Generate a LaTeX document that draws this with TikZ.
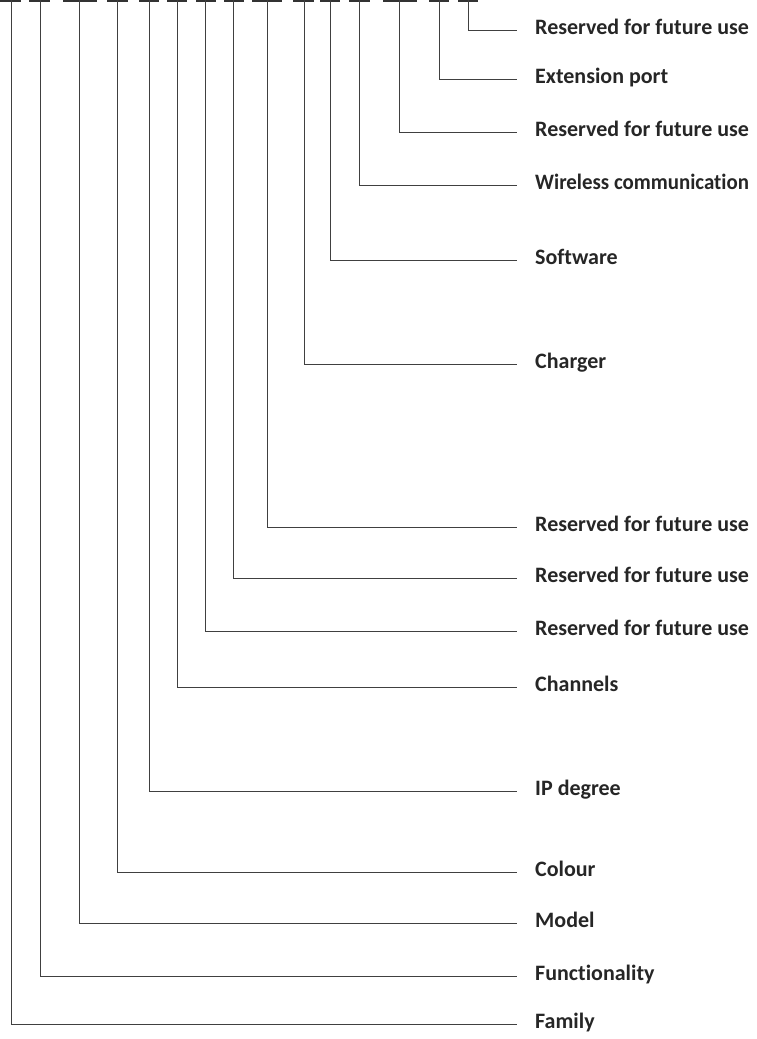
\documentclass[tikz,border=0pt]{standalone}
\usepackage{fontspec}
\setmainfont{Carlito}[Ligatures={NoCommon}]
\newfontfamily\narrowlbl{Carlito}[Ligatures={NoCommon},FakeStretch=0.95]
\begin{document}
\begin{tikzpicture}[x=1pt,y=-1pt,
  lbl/.style={anchor=west,inner sep=0pt,text height=13pt,text depth=5pt,font=\fontsize{22}{22}\selectfont\bfseries,text=black!85},
  lead/.style={draw=black!75,line width=1pt,shorten >=18pt},
  bar/.style={draw=black!80,line width=2pt}]
\useasboundingbox (0,0) rectangle (757,1039);
% label nodes
\node[lbl] (l15) at (535,30)   {Reserved for future use};
\node[lbl] (l14) at (535,79)   {Extension port};
\node[lbl] (l13) at (535,132)  {Reserved for future use};
\node[lbl,font=\fontsize{22}{22}\narrowlbl\bfseries] (l12) at (535,185)  {Wireless communication};
\node[lbl] (l11) at (535,260)  {Software};
\node[lbl] (l10) at (535,364)  {Charger};
\node[lbl] (l9)  at (535,527)  {Reserved for future use};
\node[lbl] (l8)  at (535,578)  {Reserved for future use};
\node[lbl] (l7)  at (535,631)  {Reserved for future use};
\node[lbl] (l6)  at (535,687)  {Channels};
\node[lbl] (l5)  at (535,791)  {IP degree};
\node[lbl] (l4)  at (535,872)  {Colour};
\node[lbl] (l3)  at (535,923)  {Model};
\node[lbl] (l2)  at (535,976)  {Functionality};
\node[lbl] (l1)  at (535,1024) {Family};
% top coordinates
\coordinate (t1) at (11,0);
\coordinate (t2) at (40,0);
\coordinate (t3) at (79,0);
\coordinate (t4) at (117,0);
\coordinate (t5) at (149,0);
\coordinate (t6) at (177,0);
\coordinate (t7) at (205,0);
\coordinate (t8) at (233,0);
\coordinate (t9) at (267,0);
\coordinate (t10) at (304,0);
\coordinate (t11) at (330,0);
\coordinate (t12) at (359,0);
\coordinate (t13) at (399,0);
\coordinate (t14) at (439,0);
\coordinate (t15) at (468,0);
% dashes
\foreach \a/\b in {0/21,29/50,63/97,107/128,139/159,167/187,196/216,224/244,252/282,293/314,320/340,349/370,383/417,429/449,458/478}
  \draw[bar] (\a,0.5) -- (\b,0.5);
% leaders
\foreach \i in {1,...,15}
  \draw[lead] (t\i) |- (l\i.west);
\end{tikzpicture}
\end{document}
